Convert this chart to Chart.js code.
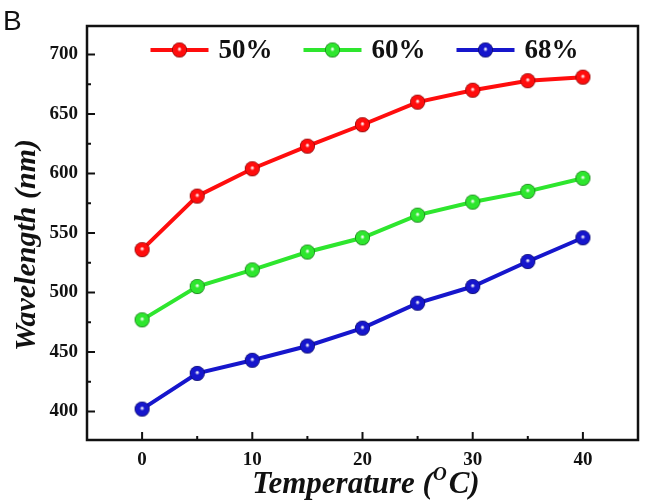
<!DOCTYPE html>
<html>
<head>
<meta charset="utf-8">
<script src="https://cdn.jsdelivr.net/npm/chart.js@4.4.1/dist/chart.umd.min.js"></script>
<style>
  html, body { margin: 0; padding: 0; background: #fff; }
  #wrap { width: 649px; height: 502px; }
</style>
</head>
<body>
<div id="wrap"><canvas id="chart" width="649" height="502"></canvas></div>
<script>
// values
const temperatures = [0, 5, 10, 15, 20, 25, 30, 35, 40];
const wl50 = [536, 581, 604, 623, 641, 660, 670, 678, 681];
const wl60 = [477, 505, 519, 534, 546, 565, 576, 585, 596];
const wl68 = [402, 432, 443, 455, 470, 491, 505, 526, 546];
const seriesNames = ['50%', '60%', '68%'];
const seriesColors = ['#ff0d0d', '#2ee62e', '#1616cc'];
const xTicks = [0, 10, 20, 30, 40];
const xMinorTicks = [5, 15, 25, 35];
const yTicks = [400, 450, 500, 550, 600, 650, 700];
const yMinorTicks = [425, 475, 525, 575, 625, 675];

const SERIF = '"Liberation Serif", "Times New Roman", serif';

// glossy ball marker like the original plot
function makeMarker(color) {
    const r = 7.5;
    const c = document.createElement('canvas');
    c.width = c.height = 17;
    const g = c.getContext('2d');
    const cx = 8.5;
    const grad = g.createRadialGradient(cx, cx - 1, 0.4, cx, cx, r);
    grad.addColorStop(0, '#ffffff');
    grad.addColorStop(0.28, color);
    grad.addColorStop(0.85, color);
    grad.addColorStop(1, 'rgba(0,0,0,0.5)');
    g.fillStyle = color;
    g.beginPath();
    g.arc(cx, cx, r, 0, Math.PI * 2);
    g.fill();
    g.fillStyle = grad;
    g.fill();
    return c;
}

const markers = seriesColors.map(makeMarker);
const seriesValues = [wl50, wl60, wl68];

const datasets = seriesValues.map((vals, i) => ({
    label: seriesNames[i],
    data: temperatures.map((t, k) => ({ x: t, y: vals[k] })),
    borderColor: seriesColors[i],
    borderWidth: 4,
    pointStyle: markers[i],
    pointRadius: 7,
    tension: 0,
    fill: false
}));

const decorations = {
    id: 'decorations',
    afterDraw(chart) {
        const { ctx, chartArea: a, scales: { x, y } } = chart;
        ctx.save();

        // frame
        ctx.strokeStyle = '#111';
        ctx.lineWidth = 2.5;
        ctx.strokeRect(a.left, a.top, a.right - a.left, a.bottom - a.top);

        // inward ticks
        ctx.lineWidth = 2;
        ctx.beginPath();
        xTicks.forEach(v => { const px = x.getPixelForValue(v); ctx.moveTo(px, a.bottom); ctx.lineTo(px, a.bottom - 8); });
        xMinorTicks.forEach(v => { const px = x.getPixelForValue(v); ctx.moveTo(px, a.bottom); ctx.lineTo(px, a.bottom - 4); });
        yTicks.forEach(v => { const py = y.getPixelForValue(v); ctx.moveTo(a.left, py); ctx.lineTo(a.left + 8, py); });
        yMinorTicks.forEach(v => { const py = y.getPixelForValue(v); ctx.moveTo(a.left, py); ctx.lineTo(a.left + 4, py); });
        ctx.stroke();

        // legend inside the plot, along the top
        ctx.font = 'bold 27px ' + SERIF;
        ctx.textBaseline = 'middle';
        const lineLen = 58, gap = 10, spacing = 31;
        const widths = chart.data.datasets.map(d => lineLen + gap + ctx.measureText(d.label).width);
        const total = widths.reduce((s, w) => s + w, 0) + spacing * (widths.length - 1);
        let lx = (a.left + a.right) / 2 - total / 2 + 2;
        const ly = 50;
        chart.data.datasets.forEach((d, i) => {
            ctx.strokeStyle = d.borderColor;
            ctx.lineWidth = 4;
            ctx.beginPath();
            ctx.moveTo(lx, ly);
            ctx.lineTo(lx + lineLen, ly);
            ctx.stroke();
            const m = d.pointStyle;
            ctx.drawImage(m, lx + lineLen / 2 - m.width / 2, ly - m.height / 2);
            ctx.fillStyle = '#111';
            ctx.textAlign = 'left';
            ctx.fillText(d.label, lx + lineLen + gap, ly + 1);
            lx += widths[i] + spacing;
        });

        // y axis title
        ctx.save();
        ctx.translate(27, 245);
        ctx.rotate(-Math.PI / 2);
        ctx.font = 'bold italic 30px ' + SERIF;
        ctx.textAlign = 'center';
        ctx.textBaseline = 'middle';
        ctx.fillStyle = '#111';
        ctx.fillText('Wavelength (nm)', 0, 0);
        ctx.restore();

        // x axis title with superscript O
        const big = 'bold italic 31px ' + SERIF;
        const small = 'bold italic 19px ' + SERIF;
        ctx.textAlign = 'left';
        ctx.textBaseline = 'alphabetic';
        ctx.fillStyle = '#111';
        ctx.font = big;
        const p1 = 'Temperature (', p3 = 'C)';
        const w1 = ctx.measureText(p1).width, w3 = ctx.measureText(p3).width;
        ctx.font = small;
        const w2 = ctx.measureText('O').width + 2;
        let tx = 366 - (w1 + w2 + w3) / 2;
        const base = 493;
        ctx.font = big;
        ctx.fillText(p1, tx, base);
        ctx.font = small;
        ctx.fillText('O', tx + w1, base - 13);
        ctx.font = big;
        ctx.fillText(p3, tx + w1 + w2, base);

        // panel letter
        ctx.font = '28px "Liberation Sans", Arial, sans-serif';
        ctx.fillText('B', 3, 30);

        ctx.restore();
    }
};

new Chart(document.getElementById('chart'), {
    type: 'line',
    data: { datasets: datasets },
    options: {
        responsive: false,
        animation: false,
        layout: { padding: { top: 26, right: 3, left: 0, bottom: 0 } },
        plugins: {
            legend: { display: false },
            tooltip: { enabled: false }
        },
        scales: {
            x: {
                type: 'linear',
                min: -5,
                max: 45,
                afterBuildTicks: s => { s.ticks = xTicks.map(v => ({ value: v })); },
                afterFit: s => { s.height = 62; },
                grid: { display: false, drawTicks: false },
                border: { display: false },
                ticks: { padding: 9, color: '#111', font: { family: SERIF, size: 19, weight: 'bold' } }
            },
            y: {
                min: 376,
                max: 724,
                afterBuildTicks: s => { s.ticks = yTicks.map(v => ({ value: v })); },
                afterFit: s => { s.width = 87; },
                grid: { display: false, drawTicks: false },
                border: { display: false },
                ticks: { padding: 9, color: '#111', font: { family: SERIF, size: 19, weight: 'bold' } }
            }
        }
    },
    plugins: [decorations]
});
</script>
</body>
</html>
